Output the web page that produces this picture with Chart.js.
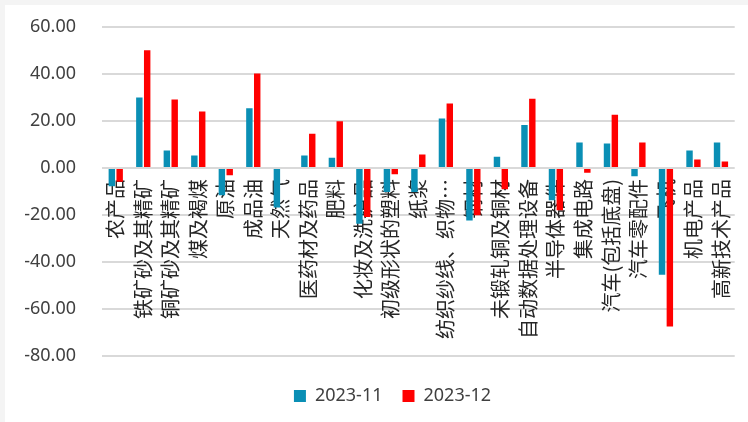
<!DOCTYPE html>
<html>
<head>
<meta charset="utf-8">
<script src="https://cdn.jsdelivr.net/npm/chart.js@4/dist/chart.umd.min.js"></script>
<style>
  html, body { margin: 0; padding: 0; background: #f4f4f4; }
  #wrap { position: absolute; left: 5px; top: 5px; width: 743px; height: 417px; background: #ffffff; }
</style>
</head>
<body>
<div id="wrap"><canvas id="mychart"></canvas></div>
<script>
const categories = [
    '农产品', '铁矿砂及其精矿', '铜矿砂及其精矿', '煤及褐煤', '原油', '成品油', '天然气',
    '医药材及药品', '肥料', '化妆及洗护品', '初级形状的塑料', '纸浆', '纺织纱线、织物…',
    '钢材', '未锻轧铜及铜材', '自动数据处理设备', '半导体器件', '集成电路', '汽车(包括底盘)',
    '汽车零配件', '飞机', '机电产品', '高新技术产品'
];
const nov2023 = [-7.8, 30.0, 7.5, 5.3, -11.6, 25.4, -16.8, 5.3, 4.4, -23.7, -10.2, -10.2, 21.1,
    -22.3, 4.8, 18.3, -13.7, 10.8, 10.4, -3.5, -45.4, 7.5, 10.8];
const dec2023 = [-5.9, 50.1, 29.1, 24.0, -3.1, 40.2, 0, 14.6, 19.9, -20.8, -2.7, 5.7, 27.5,
    -20.1, -9.0, 29.5, -18.0, -2.0, 22.7, 10.8, -67.4, 3.6, 2.8];
const seriesNames = ['2023-11', '2023-12'];
const yTicks = { min: -80, max: 60, step: 20 };

const ctx = document.getElementById('mychart');

// nudge the legend a little right and down, below the hanging category labels
const pluginLegendOffset = {
    id: 'legendOffset',
    afterLayout: (chart, args, options) => {
        const lg = chart.legend;
        lg.left += options.dx;
        lg.right += options.dx;
        lg.top += options.dy;
        lg.bottom += options.dy;
    }
};

var chart = new Chart(ctx, {
    type: 'bar',
    data: {
        labels: categories,
        datasets: [{
            label: seriesNames[0],
            data: nov2023,
            backgroundColor: '#0a8fb5',
            categoryPercentage: 0.57,
            barPercentage: 0.82
        }, {
            label: seriesNames[1],
            data: dec2023,
            backgroundColor: '#ff0000',
            categoryPercentage: 0.57,
            barPercentage: 0.82
        }]
    },
    options: {
        responsive: true,
        maintainAspectRatio: false,
        animation: false,
        layout: {
            padding: { left: 0, right: 2, top: 22, bottom: 18 }
        },
        scales: {
            x: {
                // category labels hang from the zero line, drawn over the bars
                position: { y: 0 },
                z: 1,
                grid: { display: false },
                border: { display: false },
                ticks: {
                    autoSkip: false,
                    minRotation: 90,
                    maxRotation: 90,
                    padding: 3,
                    color: '#262626',
                    font: { family: '"Noto Sans CJK SC", "Noto Sans", sans-serif', size: 20 }
                }
            },
            y: {
                min: yTicks.min,
                max: yTicks.max,
                grid: {
                    color: '#d9d9d9',
                    lineWidth: 2,
                    drawTicks: false
                },
                border: { display: false },
                ticks: {
                    stepSize: yTicks.step,
                    padding: 26,
                    color: '#404040',
                    font: { family: '"Noto Sans", sans-serif', size: 18 },
                    callback: (v) => v.toFixed(2)
                },
                afterFit: (scale) => {
                    scale.width = 97;
                    scale.paddingTop = 0;
                    scale.paddingBottom = 0;
                }
            }
        },
        plugins: {
            legend: {
                position: 'bottom',
                labels: {
                    boxWidth: 12,
                    boxHeight: 12,
                    padding: 20,
                    color: '#404040',
                    font: { family: '"Noto Sans", sans-serif', size: 18 }
                }
            },
            legendOffset: { dx: 17, dy: 11 },
            tooltip: { enabled: false }
        }
    },
    plugins: [pluginLegendOffset]
});
</script>
</body>
</html>
